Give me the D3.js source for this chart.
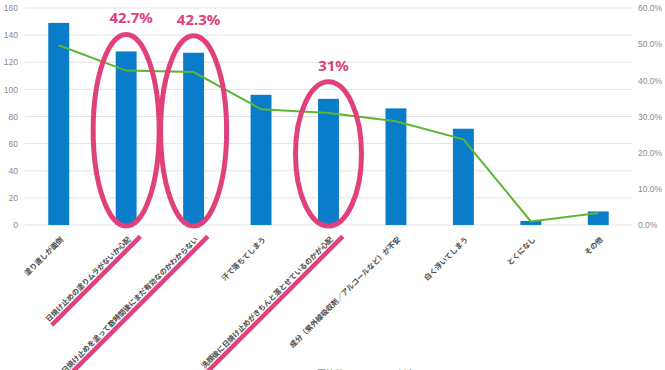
<!DOCTYPE html>
<html>
<head>
<meta charset="utf-8">
<script src="https://cdn.jsdelivr.net/npm/d3@7"></script>
<style>
  body { margin: 0; background: #fff; }
</style>
</head>
<body>
<div id="chart"></div>
<script>
// 日焼け止めの悩み（回答数と割合）
const categories = [
  '塗り直しが面倒',
  '日焼け止めの塗りムラがないか心配',
  '日焼け止めを塗って数時間後にまだ有効なのかわからない',
  '汗で落ちてしまう',
  '洗顔後に日焼け止めがきちんと落とせているのかが心配',
  '成分（紫外線吸収剤／アルコールなど）が不安',
  '白く浮いてしまう',
  'とくになし',
  'その他'
];
const counts = [149, 128, 127, 96, 93, 86, 71, 3, 10];
const shares = [49.7, 42.7, 42.3, 32.0, 31.0, 28.7, 23.7, 1.0, 3.3];
const countTicks = [0, 20, 40, 60, 80, 100, 120, 140, 160];
const shareTicks = [0, 10, 20, 30, 40, 50, 60];
const highlights = ['日焼け止めの塗りムラがないか心配', '日焼け止めを塗って数時間後にまだ有効なのかわからない', '洗顔後に日焼け止めがきちんと落とせているのかが心配'];
const highlightLabels = ['42.7%', '42.3%', '31%'];
const legendNames = ['回答数', '割合'];

const width = 665, height = 370;
const blue = '#0a7dca', green = '#5db533', pink = '#e0407b';

const x = d3.scaleBand()
  .domain(categories)
  .range([25, 632])
  .paddingInner(0.69)
  .paddingOuter(0.345);

const y = d3.scaleLinear().domain([0, 160]).range([225, 8]);
const y2 = d3.scaleLinear().domain([0, 60]).range([225, 8]);

const cx = d => x(d) + x.bandwidth() / 2;
const countOf = d => counts[categories.indexOf(d)];

const svg = d3.select('#chart').append('svg')
  .attr('width', width)
  .attr('height', height)
  .style('font-family', '"Noto Sans", "Liberation Sans", sans-serif');

// グリッド線
svg.append('g')
  .selectAll('line')
  .data(countTicks)
  .enter().append('line')
  .attr('x1', 25)
  .attr('x2', 632)
  .attr('y1', d => y(d))
  .attr('y2', d => y(d))
  .attr('stroke', '#e4e4e4')
  .attr('stroke-width', 1);

// 左軸
const yAxis = svg.append('g')
  .attr('transform', 'translate(18,0)')
  .call(d3.axisLeft(y).tickValues(countTicks).tickSize(0).tickPadding(0));
yAxis.select('.domain').remove();
yAxis.selectAll('text')
  .attr('fill', '#8a8a8a')
  .style('font-size', '8.5px');

// 右軸
const y2Axis = svg.append('g')
  .attr('transform', 'translate(638,0)')
  .call(d3.axisRight(y2).tickValues(shareTicks).tickSize(0).tickPadding(0)
    .tickFormat(d => d.toFixed(1) + '%'));
y2Axis.select('.domain').remove();
y2Axis.selectAll('text')
  .attr('fill', '#8a8a8a')
  .style('font-size', '8.5px');

// 棒
svg.append('g')
  .selectAll('rect')
  .data(categories)
  .enter().append('rect')
  .attr('x', d => x(d))
  .attr('y', (d, i) => y(counts[i]))
  .attr('width', x.bandwidth())
  .attr('height', (d, i) => y(0) - y(counts[i]))
  .attr('fill', blue);

// 折れ線
const line = d3.line()
  .x((d, i) => cx(categories[i]))
  .y(d => y2(d));

svg.append('path')
  .datum(shares)
  .attr('d', line)
  .attr('fill', 'none')
  .attr('stroke', green)
  .attr('stroke-width', 2);

// カテゴリラベル
const labels = svg.append('g')
  .selectAll('g')
  .data(categories)
  .enter().append('g')
  .attr('transform', d => `translate(${cx(d) + 5},240) rotate(-45)`);

labels.append('text')
  .attr('text-anchor', 'end')
  .attr('fill', '#4a4a4a')
  .style('font-family', '"Noto Sans CJK JP", sans-serif')
  .style('font-size', '7.3px')
  .style('font-weight', 'bold')
  .text(d => d);

// 強調（下線と楕円）
labels.filter(d => highlights.includes(d))
  .append('line')
  .attr('x1', function() { return -this.parentNode.querySelector('text').getComputedTextLength(); })
  .attr('x2', 9)
  .attr('y1', 4)
  .attr('y2', 4)
  .attr('stroke', pink)
  .attr('stroke-width', 4.5);

const marks = svg.append('g')
  .selectAll('g')
  .data(highlights)
  .enter().append('g');

marks.append('ellipse')
  .attr('cx', d => cx(d))
  .attr('cy', d => (y(countOf(d)) - 17 + y(0) + 1) / 2)
  .attr('rx', 33)
  .attr('ry', d => (y(0) + 1 - y(countOf(d)) + 17) / 2)
  .attr('fill', 'none')
  .attr('stroke', pink)
  .attr('stroke-width', 5);

marks.append('text')
  .attr('x', d => cx(d) + 5)
  .attr('y', d => y(countOf(d)) - 28)
  .attr('text-anchor', 'middle')
  .attr('fill', pink)
  .style('font-size', '15px')
  .style('font-weight', 'bold')
  .text((d, i) => highlightLabels[i]);

// 凡例（下端で切れている）
svg.append('g')
  .selectAll('text')
  .data(legendNames)
  .enter().append('text')
  .attr('x', (d, i) => 317 + i * 80)
  .attr('y', 377)
  .attr('fill', '#999')
  .style('font-family', '"Noto Sans CJK JP", sans-serif')
  .style('font-size', '9px')
  .text(d => d);
</script>
</body>
</html>
